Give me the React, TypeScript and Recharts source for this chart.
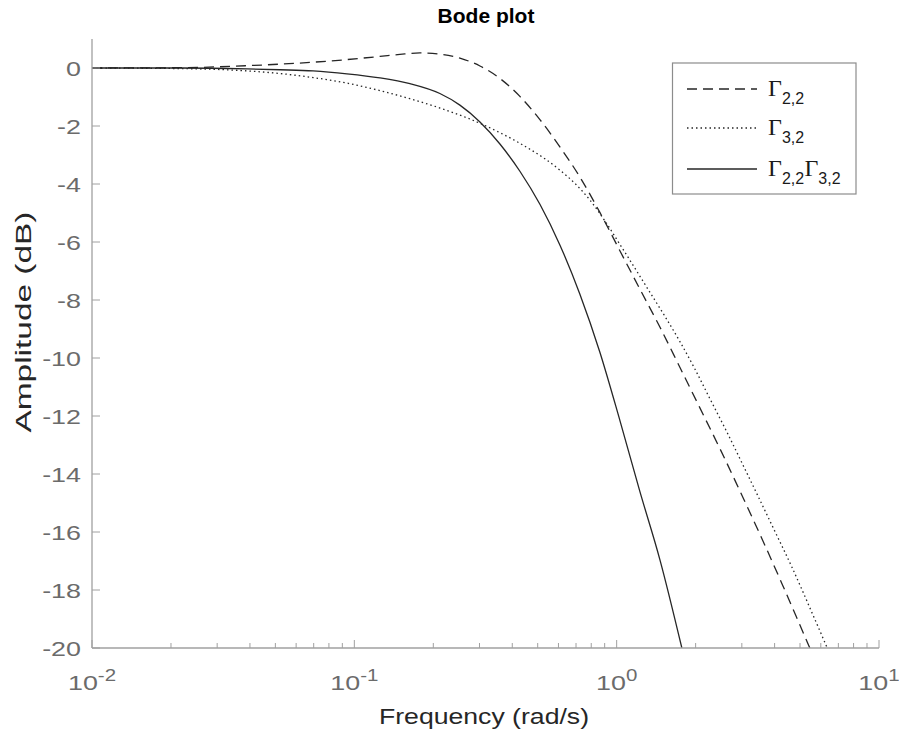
import { Line, LineChart, XAxis, YAxis } from 'recharts';

// Γ2,2 (dashed)
const g22Freq = [0.01, 0.0216, 0.039, 0.0696, 0.0937, 0.1252, 0.1492, 0.1778, 0.2119, 0.2526, 0.3012, 0.3589, 0.4277, 0.5098, 0.6074, 0.7242, 0.863, 1.0285, 1.2256, 1.4612, 1.7413, 2.076, 2.4737, 3.0263, 3.6073, 4.2997, 4.9906, 5.4488];
const g22Amp = [0, 0.01, 0.08, 0.2, 0.29, 0.4, 0.47, 0.52, 0.48, 0.34, 0.07, -0.36, -0.98, -1.78, -2.72, -3.76, -4.98, -6.3, -7.62, -8.93, -10.32, -11.72, -13.12, -14.8, -16.3, -17.85, -19.2, -20];

// Γ3,2 (dotted)
const g32Freq = [0.01, 0.0216, 0.039, 0.0521, 0.0696, 0.0937, 0.1252, 0.1629, 0.2119, 0.2758, 0.3589, 0.4093, 0.4669, 0.5326, 0.6074, 0.6931, 0.7902, 0.9016, 1.0285, 1.1731, 1.3379, 1.5267, 1.7413, 1.9869, 2.2657, 2.6303, 3.0263, 3.4525, 3.9383, 4.6935, 5.5937, 6.35];
const g32Amp = [0, -0.02, -0.1, -0.19, -0.33, -0.52, -0.78, -1.06, -1.38, -1.76, -2.23, -2.5, -2.8, -3.13, -3.52, -3.98, -4.55, -5.27, -6.08, -6.9, -7.73, -8.56, -9.43, -10.38, -11.4, -12.55, -13.68, -14.75, -15.83, -17.28, -18.85, -20];

// Γ2,2Γ3,2 (solid)
const prodFreq = [0.01, 0.0216, 0.039, 0.0521, 0.0696, 0.0937, 0.1252, 0.1629, 0.2119, 0.2526, 0.3012, 0.3589, 0.4277, 0.5098, 0.6074, 0.7242, 0.863, 1.0285, 1.2256, 1.4612, 1.7722];
const prodAmp = [0, 0, -0.03, -0.06, -0.1, -0.2, -0.34, -0.54, -0.88, -1.28, -1.86, -2.62, -3.56, -4.7, -6.1, -7.8, -9.8, -12.15, -14.6, -16.95, -20];

const xTicks = [0.01, 0.02, 0.03, 0.04, 0.05, 0.06, 0.07, 0.08, 0.09, 0.1, 0.2, 0.3, 0.4, 0.5, 0.6, 0.7, 0.8, 0.9, 1, 2, 3, 4, 5, 6, 7, 8, 9, 10];
const yTicks = [-20, -18, -16, -14, -12, -10, -8, -6, -4, -2, 0];

const toRows = (freq: number[], amp: number[]) => freq.map((f, i) => ({ freq: f, amp: amp[i] }));

const AXIS = '#a0a0a0';
const TICK_TEXT = '#6b6b6b';
const LINE = '#262626';
const FONT = '"Liberation Sans", Arial, sans-serif';
const STRETCH = 1.28;

const isDecade = (v: number) => Math.abs(Math.log10(v) - Math.round(Math.log10(v))) < 1e-6;

const BottomTick = (props: any) => {
  const { x, y, payload } = props;
  const major = isDecade(payload.value);
  return (
    <g>
      <line x1={x} y1={y} x2={x} y2={y - (major ? 8 : 5)} stroke={AXIS} strokeWidth={1} />
      {major && (
        <text
          transform={`translate(${x} ${y + 42}) scale(${STRETCH} 1)`}
          textAnchor="middle"
          fill={TICK_TEXT}
          fontFamily={FONT}
          fontSize={21}
        >
          10
          <tspan dy={-9} fontSize={16}>
            {Math.round(Math.log10(payload.value))}
          </tspan>
        </text>
      )}
    </g>
  );
};

const TopTick = (props: any) => {
  const { x, y, payload } = props;
  const major = isDecade(payload.value);
  return <line x1={x} y1={y} x2={x} y2={y + (major ? 8 : 5)} stroke={AXIS} strokeWidth={1} />;
};

const LeftTick = (props: any) => {
  const { x, y, payload } = props;
  return (
    <g>
      <line x1={x} y1={y} x2={x + 8} y2={y} stroke={AXIS} strokeWidth={1} />
      <text
        transform={`translate(${x - 11} ${y + 7.5}) scale(${STRETCH} 1)`}
        textAnchor="end"
        fill={TICK_TEXT}
        fontFamily={FONT}
        fontSize={21}
      >
        {payload.value}
      </text>
    </g>
  );
};

const RightTick = (props: any) => {
  const { x, y } = props;
  return <line x1={x} y1={y} x2={x - 8} y2={y} stroke={AXIS} strokeWidth={1} />;
};

const Gamma = ({ sub }: { sub: string }) => (
  <>
    <tspan fontFamily='"Liberation Serif", "Times New Roman", serif' fontSize={24}>
      Γ
    </tspan>
    <tspan dy={8} fontSize={16}>
      {sub}
    </tspan>
    <tspan dy={-8} fontSize={1}>
      {' '}
    </tspan>
  </>
);

function Overlay() {
  const rows = [
    { y: 89, dash: '10 6', label: ['2,2'] },
    { y: 128, dash: '1.5 3', label: ['3,2'] },
    { y: 169, dash: undefined, label: ['2,2', '3,2'] }
  ];
  return (
    <svg width={899} height={736} style={{ position: 'absolute', left: 0, top: 0, pointerEvents: 'none' }}>
      <text x={486} y={23} textAnchor="middle" fontFamily={FONT} fontWeight="bold" fontSize={21} fill="#000">
        Bode plot
      </text>
      <text
        x={484}
        y={724}
        textAnchor="middle"
        fontFamily={FONT}
        fontSize={22}
        fill="#262626"
        textLength={210}
        lengthAdjust="spacingAndGlyphs"
      >
        Frequency (rad/s)
      </text>
      <text
        transform="translate(31 322) rotate(-90)"
        textAnchor="middle"
        fontFamily={FONT}
        fontSize={22}
        fill="#262626"
        textLength={221}
        lengthAdjust="spacingAndGlyphs"
      >
        Amplitude (dB)
      </text>
      <rect x={672.5} y={63} width={183.5} height={131} fill="#fff" stroke="#8c8c8c" strokeWidth={1.2} />
      {rows.map((r) => (
        <g key={r.y}>
          <line x1={687} x2={757} y1={r.y} y2={r.y} stroke={LINE} strokeWidth={1.3} strokeDasharray={r.dash} />
          <text x={768} y={r.y + 7} fontFamily={FONT} fill="#1a1a1a">
            {r.label.map((s, i) => (
              <Gamma key={i} sub={s} />
            ))}
          </text>
        </g>
      ))}
    </svg>
  );
}

export default function App() {
  return (
    <div style={{ position: 'absolute', left: 0, top: 0, width: 899, height: 736, background: '#fff' }}>
      <LineChart width={899} height={736} margin={{ top: 39, right: 20, bottom: 28, left: 0 }}>
        <XAxis
          dataKey="freq"
          type="number"
          scale="log"
          domain={[0.01, 10]}
          ticks={xTicks}
          interval={0}
          allowDataOverflow
          height={60}
          tickSize={0}
          tickMargin={0}
          tickLine={false}
          axisLine={{ stroke: AXIS, strokeWidth: 1.3 }}
          tick={<BottomTick />}
        />
        <XAxis
          xAxisId="top"
          orientation="top"
          dataKey="freq"
          type="number"
          scale="log"
          domain={[0.01, 10]}
          ticks={xTicks}
          interval={0}
          allowDataOverflow
          height={0}
          tickSize={0}
          tickMargin={0}
          tickLine={false}
          axisLine={{ stroke: AXIS, strokeWidth: 1.3 }}
          tick={<TopTick />}
        />
        <YAxis
          type="number"
          domain={[-20, 1]}
          ticks={yTicks}
          interval={0}
          allowDataOverflow
          width={92}
          tickSize={0}
          tickMargin={0}
          tickLine={false}
          axisLine={{ stroke: AXIS, strokeWidth: 1.3 }}
          tick={<LeftTick />}
        />
        <YAxis
          yAxisId="right"
          orientation="right"
          type="number"
          domain={[-20, 1]}
          ticks={yTicks}
          interval={0}
          allowDataOverflow
          width={0}
          tickSize={0}
          tickMargin={0}
          tickLine={false}
          axisLine={{ stroke: AXIS, strokeWidth: 1.3 }}
          tick={<RightTick />}
        />
        <Line
          data={toRows(g22Freq, g22Amp)}
          dataKey="amp"
          type="monotone"
          stroke={LINE}
          strokeWidth={1.3}
          strokeDasharray="10 6"
          dot={false}
          isAnimationActive={false}
        />
        <Line
          data={toRows(g32Freq, g32Amp)}
          dataKey="amp"
          type="monotone"
          stroke={LINE}
          strokeWidth={1.3}
          strokeDasharray="1.5 3"
          dot={false}
          isAnimationActive={false}
        />
        <Line
          data={toRows(prodFreq, prodAmp)}
          dataKey="amp"
          type="monotone"
          stroke={LINE}
          strokeWidth={1.3}
          dot={false}
          isAnimationActive={false}
        />
      </LineChart>
      <Overlay />
    </div>
  );
}
